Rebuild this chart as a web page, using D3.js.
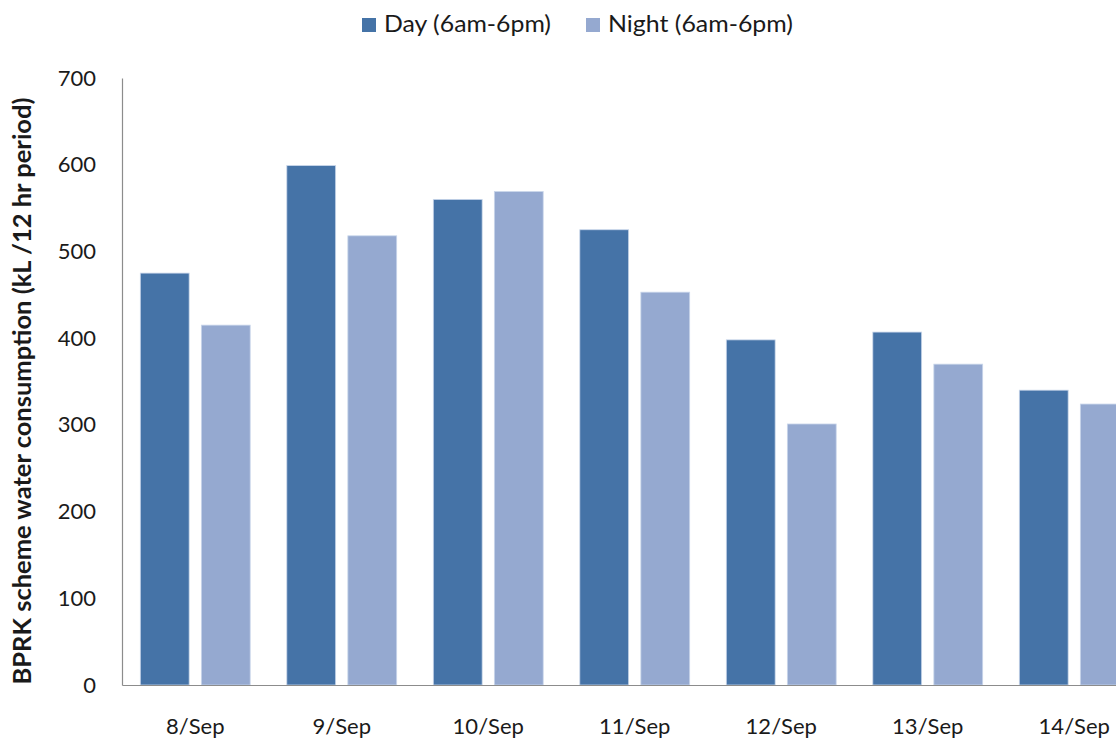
<!DOCTYPE html>
<html>
<head>
<meta charset="utf-8">
<script src="https://cdn.jsdelivr.net/npm/d3@7"></script>
<style>
  html, body { margin: 0; padding: 0; background: #fff; }
  svg { display: block; font-family: Lato, "Open Sans", sans-serif; }
</style>
</head>
<body>
<svg id="chart" width="1116" height="740"></svg>
<script>
// Daily water consumption, split into two 12-hour periods
const categories = ["8/Sep", "9/Sep", "10/Sep", "11/Sep", "12/Sep", "13/Sep", "14/Sep"];
const seriesNames = ["Day (6am-6pm)", "Night (6am-6pm)"];
const dayValues = [475, 599, 560, 525, 398, 407, 340];
const nightValues = [415, 518, 569, 453, 301, 370, 324];
const yTicks = [0, 100, 200, 300, 400, 500, 600, 700];
const colors = ["#4573a7", "#95a9d0"];

const svg = d3.select("#chart");
const margin = { left: 122, top: 78, bottom: 55 };
const plotHeight = 740 - margin.top - margin.bottom;
const bandStep = 146.5;
const plotWidth = bandStep * categories.length;

const x = d3.scaleBand().domain(categories).range([margin.left, margin.left + plotWidth]).paddingInner(0.25).paddingOuter(0.125);
const xSub = d3.scaleBand().domain(seriesNames).range([0, x.bandwidth()]).paddingInner(0.2);
const y = d3.scaleLinear().domain([0, 700]).range([margin.top + plotHeight, margin.top]);

const rows = categories.map((c, i) => ({ cat: c, vals: [dayValues[i], nightValues[i]] }));

// Bars
const groups = svg.append("g").selectAll("g").data(rows).join("g")
  .attr("transform", d => `translate(${x(d.cat)},0)`);
groups.selectAll("rect").data(d => d.vals.map((v, j) => ({ v, j }))).join("rect")
  .attr("x", d => xSub(seriesNames[d.j]))
  .attr("width", xSub.bandwidth())
  .attr("y", d => y(d.v))
  .attr("height", d => y(0) - y(d.v))
  .attr("fill", d => colors[d.j])
  .attr("stroke", "#c9d6ea")
  .attr("stroke-width", 0.8);

// Y axis
const yAxis = d3.axisLeft(y).tickValues(yTicks).tickSize(0).tickPadding(26);
const yg = svg.append("g").attr("transform", `translate(${margin.left},0)`).call(yAxis);
yg.select(".domain").attr("stroke", "#8c8c8c").attr("stroke-width", 1.2);
yg.selectAll("text").attr("font-size", 22).attr("fill", "#1a1a1a").attr("font-family", "Lato, sans-serif");

// X axis
const xAxis = d3.axisBottom(x).tickSize(0).tickPadding(33);
const xg = svg.append("g").attr("transform", `translate(0,${y(0)})`).call(xAxis);
xg.select(".domain").attr("stroke", "#8c8c8c").attr("stroke-width", 1.2);
xg.selectAll("text").attr("font-size", 22).attr("fill", "#1a1a1a").attr("font-family", "Lato, sans-serif");

// Y axis title
svg.append("text")
  .attr("transform", `translate(31,${391}) rotate(-90)`)
  .attr("text-anchor", "middle")
  .attr("font-size", 24)
  .attr("font-weight", "bold")
  .attr("fill", "#1a1a1a")
  .attr("textLength", 587)
  .attr("lengthAdjust", "spacingAndGlyphs")
  .text("BPRK scheme water consumption (kL /12 hr period)");

// Legend
const legendX = [362, 586];
const legendTextLen = [167, 185];
const legend = svg.append("g").selectAll("g").data(seriesNames).join("g")
  .attr("transform", (d, i) => `translate(${legendX[i]},18)`);
legend.append("rect").attr("width", 14).attr("height", 14).attr("fill", (d, i) => colors[i]);
legend.append("text").attr("x", 22).attr("y", 13.5).attr("font-size", 23).attr("fill", "#1a1a1a")
  .attr("textLength", (d, i) => legendTextLen[i])
  .attr("lengthAdjust", "spacingAndGlyphs")
  .text(d => d);
</script>
</body>
</html>
